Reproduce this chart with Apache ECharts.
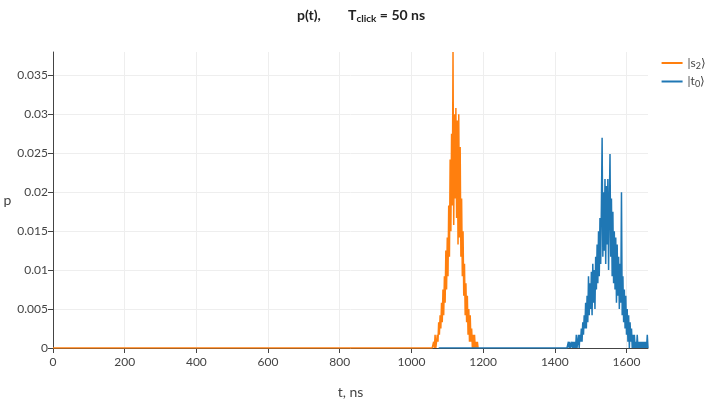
<!DOCTYPE html>
<html>
<head>
<meta charset="utf-8">
<script src="https://cdn.jsdelivr.net/npm/echarts@6/dist/echarts.min.js"></script>
<style>
  html, body { margin: 0; padding: 0; background: #fff; }
  #chart { width: 710px; height: 404px; }
</style>
</head>
<body>
<div id="chart"></div>
<script>
// t in ns, p
const s2Times = [0, 1058,
  1060, 1062, 1064, 1066, 1068, 1070, 1072, 1074, 1076, 1078,
  1080, 1082, 1084, 1086, 1088, 1090, 1092, 1094, 1096, 1098,
  1100, 1102, 1104, 1106, 1108, 1110, 1112, 1114, 1116, 1118,
  1120, 1122, 1124, 1126, 1128, 1130, 1132, 1134, 1136, 1138,
  1140, 1142, 1144, 1146, 1148, 1150, 1152, 1154, 1156, 1158,
  1160, 1162, 1164, 1166, 1168, 1170, 1172, 1174, 1176, 1178,
  1180, 1182, 1184, 1186];
const s2Values = [0, 0,
  0, 0.0008, 0, 0.0017, 0, 0.0008, 0.0017, 0.0008, 0.0033, 0.0017,
  0.0042, 0.0025, 0.0058, 0.0033, 0.0075, 0.0042, 0.0092, 0.0058, 0.0125, 0.0075,
  0.0142, 0.0092, 0.0183, 0.0117, 0.0242, 0.015, 0.0275, 0.0183, 0.038, 0.0158,
  0.03, 0.0192, 0.0308, 0.0167, 0.0292, 0.0133, 0.03, 0.0142, 0.0258, 0.0117,
  0.0192, 0.0092, 0.015, 0.0067, 0.0108, 0.0042, 0.0083, 0.0033, 0.0067, 0.0017,
  0.005, 0.0008, 0.0042, 0.0008, 0.0025, 0, 0.0017, 0, 0.0017, 0,
  0.0008, 0, 0.0008, 0];

const t0Times = [1076, 1434,
  1436, 1438, 1440, 1442, 1444, 1446, 1448, 1450, 1452, 1454,
  1456, 1458, 1460, 1462, 1464, 1466, 1468, 1470, 1472, 1474,
  1476, 1478, 1480, 1482, 1484, 1486, 1488, 1490, 1492, 1494,
  1496, 1498, 1500, 1502, 1504, 1506, 1508, 1510, 1512, 1514,
  1516, 1518, 1520, 1522, 1524, 1526, 1528, 1530, 1532, 1534,
  1536, 1538, 1540, 1542, 1544, 1546, 1548, 1550, 1552, 1554,
  1556, 1558, 1560, 1562, 1564, 1566, 1568, 1570, 1572, 1574,
  1576, 1578, 1580, 1582, 1584, 1586, 1588, 1590, 1592, 1594,
  1596, 1598, 1600, 1602, 1604, 1606, 1608, 1610, 1612, 1614,
  1616, 1618, 1620, 1622, 1624, 1626, 1628, 1630, 1632, 1634,
  1636, 1638, 1640, 1642, 1644, 1646, 1648, 1650, 1652, 1654,
  1656, 1658, 1660];
const t0Values = [0, 0,
  0, 0.0008, 0, 0.0008, 0, 0, 0.0008, 0, 0.0008, 0,
  0.0008, 0, 0.0017, 0, 0.0008, 0.0017, 0, 0.0017, 0.0008, 0.0025,
  0.0008, 0.0033, 0.0017, 0.0042, 0.0025, 0.0058, 0.0025, 0.0067, 0.0033, 0.0092,
  0.0042, 0.0083, 0.005, 0.0098, 0.0042, 0.0108, 0.0058, 0.01, 0.005, 0.0117,
  0.0075, 0.0133, 0.0083, 0.015, 0.0092, 0.0167, 0.0108, 0.0183, 0.027, 0.0117,
  0.02, 0.0125, 0.0217, 0.0108, 0.0208, 0.0133, 0.0217, 0.01, 0.0183, 0.0249,
  0.0117, 0.0192, 0.0092, 0.0175, 0.0083, 0.015, 0.0075, 0.0142, 0.0058, 0.0133,
  0.0067, 0.0117, 0.005, 0.0108, 0.0058, 0.02, 0.0042, 0.0092, 0.0033, 0.0075,
  0.0025, 0.0067, 0.0017, 0.005, 0.0008, 0.0042, 0, 0.0033, 0.0008, 0.0025,
  0, 0.0017, 0, 0.0017, 0, 0.0008, 0, 0.0017, 0, 0.0008,
  0, 0.0008, 0, 0.0008, 0, 0.0008, 0, 0.0008, 0, 0.0008,
  0, 0.0017, 0];

const xTicks = [0, 200, 400, 600, 800, 1000, 1200, 1400, 1600];
const yTicks = [0, 0.005, 0.01, 0.015, 0.02, 0.025, 0.03, 0.035];

const font = "Lato, 'Noto Sans', sans-serif";
const pair = (ts, vs) => ts.map((t, i) => [t, vs[i]]);

const chart = echarts.init(document.getElementById("chart"), null, { renderer: "canvas" });

chart.setOption({
  animation: false,
  backgroundColor: "#fff",
  textStyle: { fontFamily: font },
  title: {
    text: "p(t),        T{sub|click} = 50 ns",
    left: 297,
    top: 6,
    padding: 0,
    textStyle: {
      fontFamily: font, fontSize: 14, fontWeight: "bold", color: "#222",
      rich: { sub: { fontFamily: font, fontSize: 10, fontWeight: "bold", color: "#222", padding: [8, 0, 0, 0] } }
    }
  },
  legend: {
    right: 4,
    top: 57,
    padding: 0,
    orient: "vertical",
    icon: "rect",
    itemWidth: 21,
    itemHeight: 2,
    itemGap: 5,
    textStyle: {
      fontFamily: font, fontSize: 12, color: "#444",
      rich: { sub: { fontFamily: font, fontSize: 9, color: "#444", padding: [6, 0, 0, 0] } }
    },
    formatter: n => n === "s2" ? "|s{sub|2}⟩" : "|t{sub|0}⟩",
    data: ["s2", "t0"]
  },
  grid: { left: 53, right: 62, top: 52, bottom: 53 },
  xAxis: {
    type: "value",
    min: 0, max: 1660, interval: 200,
    name: "t, ns", nameLocation: "middle", nameGap: 37,
    nameTextStyle: { fontFamily: font, fontSize: 14, color: "#444" },
    axisLine: { show: true, onZero: false, lineStyle: { color: "#444", width: 1 } },
    axisTick: { show: true, length: 5, lineStyle: { color: "#444" } },
    axisLabel: { color: "#444", fontSize: 12, margin: 8, showMaxLabel: false,
      formatter: v => xTicks.includes(v) ? String(v) : "" },
    splitLine: { show: true, showMaxLine: false, lineStyle: { color: "#eee" } }
  },
  yAxis: {
    type: "value",
    min: 0, max: 0.038, interval: 0.005,
    name: "p", nameLocation: "middle", nameGap: 35, nameRotate: 0,
    nameTextStyle: { fontFamily: font, fontSize: 14, color: "#444" },
    axisLine: { show: true, onZero: false, lineStyle: { color: "#444", width: 1 } },
    axisTick: { show: true, length: 5, lineStyle: { color: "#444" } },
    axisLabel: { color: "#444", fontSize: 12, margin: 5, showMaxLabel: false,
      formatter: v => {
        const k = yTicks.findIndex(y => Math.abs(y - v) < 1e-9);
        return k < 0 ? "" : String(yTicks[k]);
      } },
    splitLine: { show: true, showMaxLine: false, lineStyle: { color: "#eee" } }
  },
  series: [
    {
      name: "s2", type: "line", data: pair(s2Times, s2Values),
      showSymbol: false, symbol: "none",
      lineStyle: { color: "#ff7f0e", width: 1.5 }, itemStyle: { color: "#ff7f0e" }
    },
    {
      name: "t0", type: "line", data: pair(t0Times, t0Values),
      showSymbol: false, symbol: "none",
      lineStyle: { color: "#1f77b4", width: 1.5 }, itemStyle: { color: "#1f77b4" }
    }
  ]
});
</script>
</body>
</html>
